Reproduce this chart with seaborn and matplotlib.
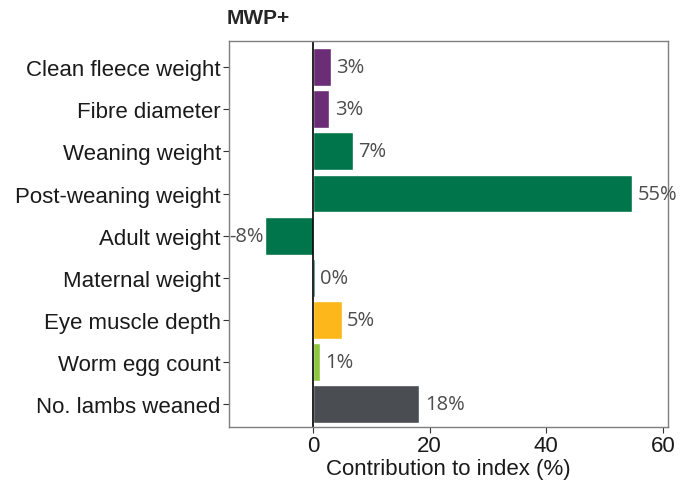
import matplotlib
matplotlib.use('Agg')
import matplotlib.pyplot as plt
import seaborn as sns
import pandas as pd

# --- data ---
traits = ['Clean fleece weight', 'Fibre diameter', 'Weaning weight',
          'Post-weaning weight', 'Adult weight', 'Maternal weight',
          'Eye muscle depth', 'Worm egg count', 'No. lambs weaned']
contribution = [3.0, 2.8, 6.8, 54.7, -8.2, 0.3, 4.9, 1.2, 18.2]
labels = ['3%', '3%', '7%', '55%', '-8%', '0%', '5%', '1%', '18%']
trait_colors = ['#6B2D75', '#6B2D75', '#00744A', '#00744A', '#00744A',
                '#00744A', '#FDB71A', '#8DC63F', '#4A4D51']
x_ticks = [0, 20, 40, 60]

df = pd.DataFrame({'trait': traits, 'value': contribution})

sns.set_style('white')
plt.rcParams['font.family'] = ['Liberation Sans', 'DejaVu Sans']

fig = plt.figure(figsize=(6.88, 4.85), dpi=100)
ax = fig.add_axes([0.333, 0.1175, 0.638, 0.7955])

sns.barplot(data=df, x='value', y='trait', hue='trait', palette=trait_colors,
            order=traits, width=0.9, legend=False, orient='h',
            saturation=1, ax=ax)

ax.axvline(0, color='black', lw=1.2, zorder=1)

for i, (v, lab) in enumerate(zip(contribution, labels)):
    if v >= 0:
        ax.annotate(lab, xy=(v, i), xytext=(4, 0), textcoords='offset points',
                    ha='left', va='center', fontsize=14.5, color='#4D4D4D',
                    family=['Open Sans', 'DejaVu Sans'])
    else:
        ax.annotate(lab, xy=(v, i), xytext=(-1, 0), textcoords='offset points',
                    ha='right', va='center', fontsize=14.5, color='#4D4D4D',
                    family=['Open Sans', 'DejaVu Sans'])

ax.set_xlim(-14.4, 60.9)
ax.set_ylim(8.55, -0.62)
ax.set_xticks(x_ticks)
ax.set_xlabel('Contribution to index (%)', fontsize=16, color='#1A1A1A', labelpad=1)
ax.set_ylabel('')
ax.tick_params(axis='both', labelsize=16, colors='#1A1A1A', length=4,
               width=0.8, direction='out', pad=2)
ax.tick_params(axis='both', color='#333333', left=True, bottom=True)
for sp in ax.spines.values():
    sp.set_color('#7F7F7F')
    sp.set_linewidth(1.0)

ax.set_title('MWP+', loc='left', fontsize=15, fontweight='bold', pad=13, x=-0.005)

plt.savefig('out.png', dpi=100)
